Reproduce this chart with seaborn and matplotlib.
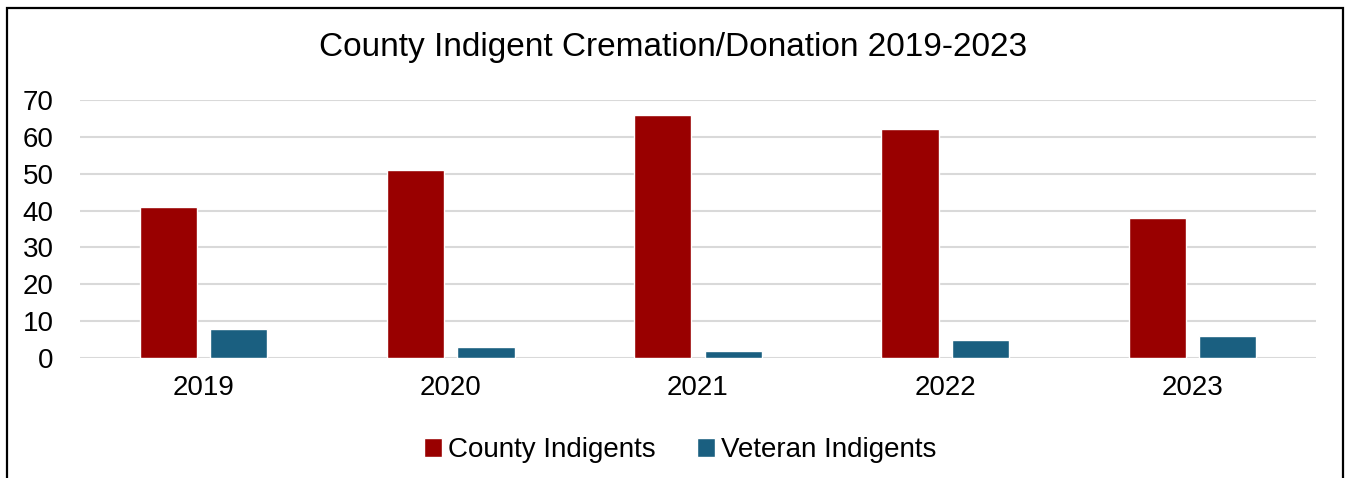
import pandas as pd
import seaborn as sns
import matplotlib.pyplot as plt
from matplotlib.patches import Rectangle

# Chart data
years = ["2019", "2020", "2021", "2022", "2023"]
county_indigents = [41, 51, 66, 62, 38]
veteran_indigents = [8, 3, 2, 5, 6]
series_names = ["County Indigents", "Veteran Indigents"]
colors = ["#990000", "#1a5f80"]

df = pd.DataFrame({
    "year": years * 2,
    "count": county_indigents + veteran_indigents,
    "series": [series_names[0]] * len(years) + [series_names[1]] * len(years),
})

sns.set_style("white")
plt.rcParams["font.family"] = ["Liberation Sans", "DejaVu Sans"]
plt.rcParams["text.color"] = "black"

fig = plt.figure(figsize=(13.46, 4.78), dpi=100)
ax = fig.add_axes([80 / 1346, 1 - 358 / 478, (1316 - 80) / 1346, (358 - 100) / 478])

sns.barplot(data=df, x="year", y="count", hue="series", palette=colors,
            width=0.57, gap=0.19, saturation=1, ax=ax, legend=True)

ax.set_ylim(0, 70)
ax.set_yticks(range(0, 71, 10))
ax.set_xlim(-0.5, len(years) - 0.5)
ax.yaxis.grid(True, color="#d9d9d9", linewidth=1.5)
ax.set_axisbelow(True)
for s in ax.spines.values():
    s.set_visible(False)
ax.tick_params(axis="both", length=0, labelsize=20, colors="black")
ax.tick_params(axis="x", pad=12)
ax.tick_params(axis="y", pad=19)
ax.set_xlabel("")
ax.set_ylabel("")

ax.legend(loc="center", bbox_to_anchor=(680 / 1346, 1 - 450 / 478), bbox_transform=fig.transFigure,
          ncol=2, frameon=False, fontsize=20, handlelength=0.65, handleheight=0.65,
          handletextpad=0.2, columnspacing=1.5)

fig.suptitle("County Indigent Cremation/Donation 2019-2023", y=1 - 47 / 478,
             va="center", fontsize=24, color="black")

# outer chart border
fig.patches.append(Rectangle((7 / 1346, -0.1), (1343 - 7) / 1346, 1.1 - 8 / 478,
                             transform=fig.transFigure, fill=False,
                             edgecolor="black", linewidth=1.6))

fig.savefig("out.png", dpi=100)
